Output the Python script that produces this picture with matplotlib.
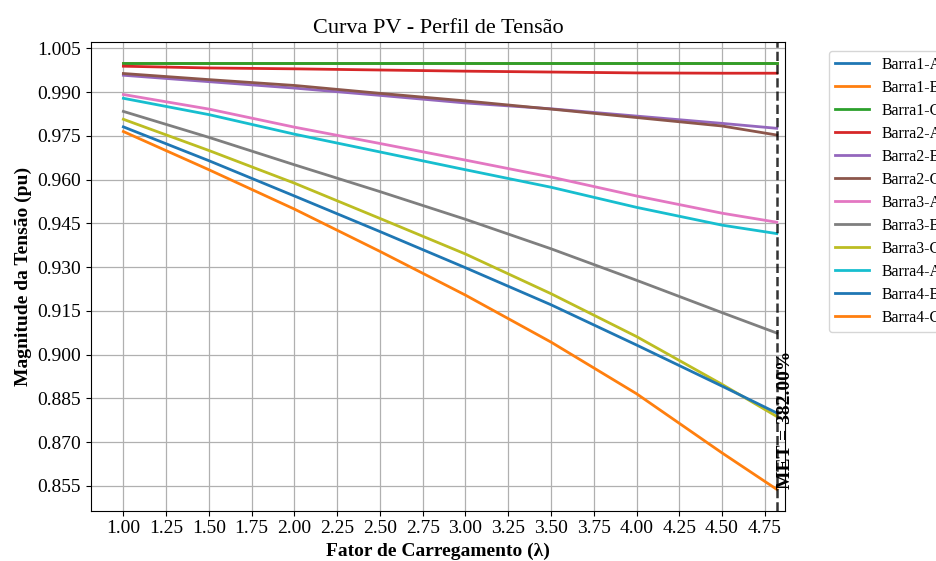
import numpy as np
import matplotlib
matplotlib.use("Agg")
import matplotlib.pyplot as plt
from matplotlib.ticker import FormatStrFormatter

plt.rcParams['font.family'] = ['Liberation Serif', 'DejaVu Serif']

# Loading factor (lambda)
lam = [1.0, 1.5, 2.0, 2.5, 3.0, 3.5, 4.0, 4.5, 4.82]

barra1_a = [1.0, 1.0, 1.0, 1.0, 1.0, 1.0, 1.0, 1.0, 1.0]
barra1_b = [1.0, 1.0, 1.0, 1.0, 1.0, 1.0, 1.0, 1.0, 1.0]
barra1_c = [1.0, 1.0, 1.0, 1.0, 1.0, 1.0, 1.0, 1.0, 1.0]
barra2_a = [0.9989, 0.9983, 0.9980, 0.9976, 0.9972, 0.9969, 0.9966, 0.9965, 0.9965]
barra2_b = [0.9958, 0.9936, 0.9914, 0.9889, 0.9863, 0.9843, 0.9818, 0.9793, 0.9776]
barra2_c = [0.9964, 0.9943, 0.9923, 0.9896, 0.9870, 0.9842, 0.9813, 0.9784, 0.9753]
barra3_a = [0.9892, 0.9842, 0.9780, 0.9724, 0.9667, 0.9609, 0.9544, 0.9485, 0.9454]
barra3_b = [0.9834, 0.9745, 0.9651, 0.9559, 0.9464, 0.9363, 0.9255, 0.9144, 0.9074]
barra3_c = [0.9807, 0.9700, 0.9588, 0.9467, 0.9345, 0.9209, 0.9062, 0.8898, 0.8788]
barra4_a = [0.9879, 0.9823, 0.9756, 0.9695, 0.9634, 0.9574, 0.9505, 0.9444, 0.9415]
barra4_b = [0.9781, 0.9665, 0.9544, 0.9422, 0.9298, 0.9171, 0.9033, 0.8892, 0.8800]
barra4_c = [0.9765, 0.9634, 0.9499, 0.9354, 0.9204, 0.9043, 0.8866, 0.8663, 0.8538]

labels = ["Barra1-A", "Barra1-B", "Barra1-C", "Barra2-A", "Barra2-B", "Barra2-C",
          "Barra3-A", "Barra3-B", "Barra3-C", "Barra4-A", "Barra4-B", "Barra4-C"]
series = [barra1_a, barra1_b, barra1_c, barra2_a, barra2_b, barra2_c,
          barra3_a, barra3_b, barra3_c, barra4_a, barra4_b, barra4_c]

lam_max = 4.82
met_label = "MET = 382.00%"

fig = plt.figure(figsize=(9.37, 5.61), dpi=100)
ax = fig.add_axes([0.0968, 0.0897, 0.7410, 0.8360])

for lbl, vals in zip(labels, series):
    ax.plot(lam, vals, lw=2, label=lbl)

ax.axvline(lam_max, color='k', ls='--', lw=1.8, alpha=0.8)
vmin = min(min(s) for s in series)
ax.text(lam_max, vmin, met_label, rotation=90, ha='left', va='bottom',
        fontsize=14, fontweight='bold')

ax.set_xlim(0.809, lam_max * 1.01)
ax.set_xticks(np.arange(1.0, 4.76, 0.25))
ax.set_yticks(np.arange(0.855, 1.0051, 0.015))
ax.xaxis.set_major_formatter(FormatStrFormatter('%.2f'))
ax.yaxis.set_major_formatter(FormatStrFormatter('%.3f'))
ax.tick_params(labelsize=14)
ax.grid(True, color='#b0b0b0', lw=0.9)

ax.set_title("Curva PV - Perfil de Tensão", fontsize=16)
ax.set_xlabel("Fator de Carregamento (λ)", fontsize=14, fontweight='bold')
ax.set_ylabel("Magnitude da Tensão (pu)", fontsize=14, fontweight='bold')

ax.legend(loc='upper left', bbox_to_anchor=(829 / 937, 1 - 50.7 / 561),
          bbox_transform=fig.transFigure, borderaxespad=0, fontsize=11.4,
          handlelength=2.1, labelspacing=0.44)

fig.savefig("out.png", dpi=100)
